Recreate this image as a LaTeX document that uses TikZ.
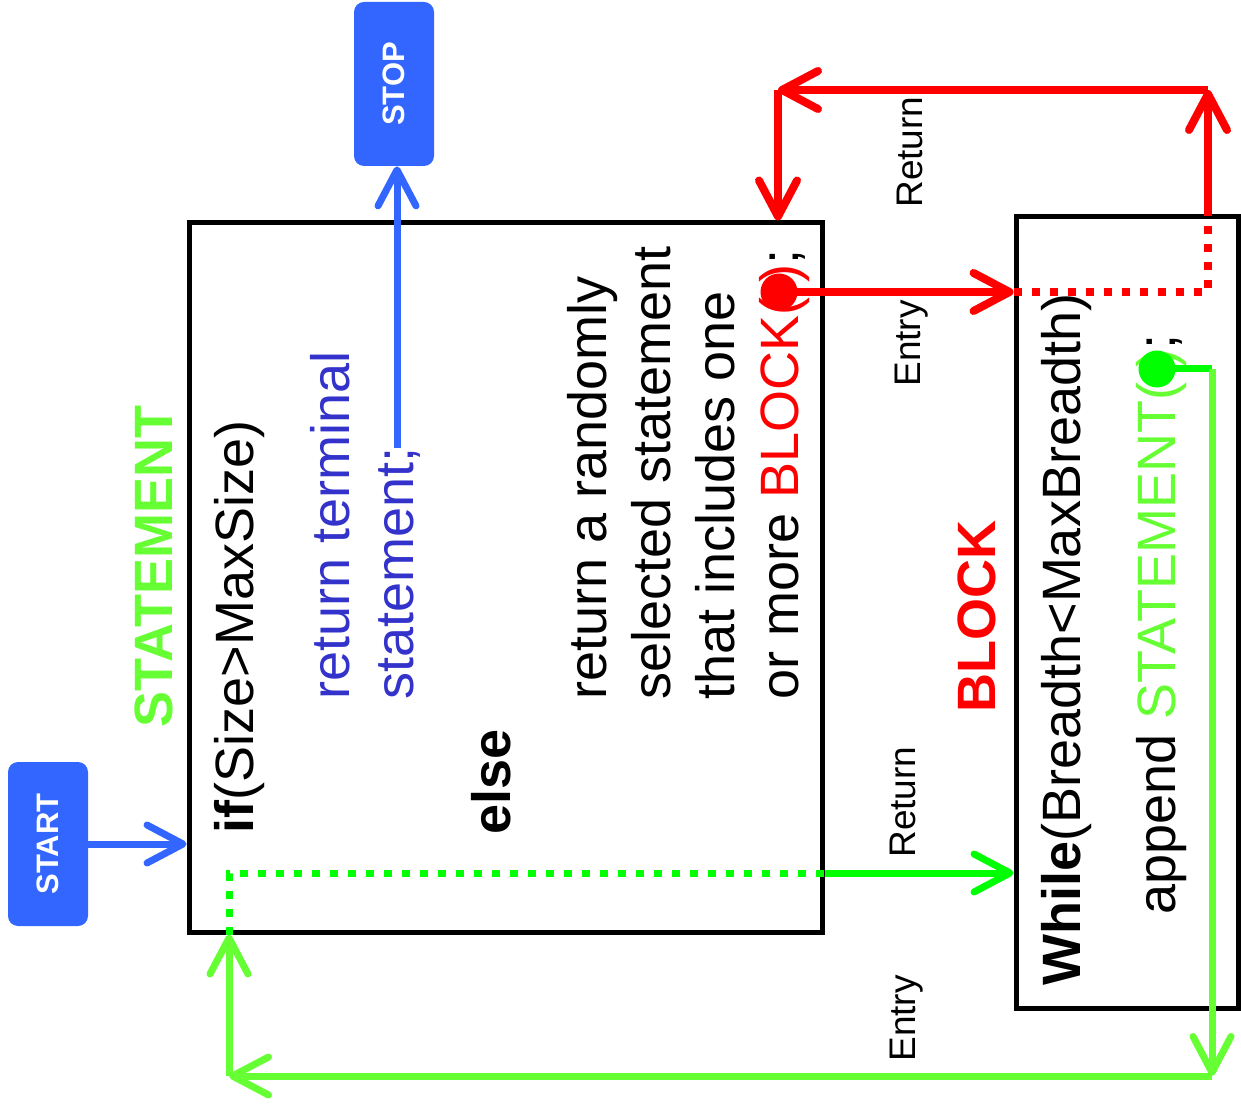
\documentclass[tikz,border=0pt]{standalone}
\usepackage{fontspec}
\setmainfont{Liberation Sans}
\usepackage{xcolor}
\usetikzlibrary{arrows.meta}
\definecolor{flowblue}{HTML}{3366FF}
\definecolor{codeblue}{HTML}{3333CC}
\definecolor{stmtgreen}{HTML}{66FF33}
\definecolor{hotgreen}{HTML}{00FF00}
\definecolor{blockred}{HTML}{FF0000}

\tikzset{
  barb/.style={-{Straight Barb[length=18pt,width=19pt,round]}},
  dots/.style={dash pattern=on 4pt off 5pt},
  txt/.style={rotate=90,anchor=base west,inner sep=0pt,align=left,font=\fontsize{27}{32}\selectfont},
  tag/.style={rotate=90,anchor=base west,inner sep=0pt,font=\fontsize{18.5}{22}\selectfont},
  term/.style={rotate=90,fill=flowblue,rounded corners=5pt,minimum width=82pt,minimum height=40pt,
    text=white,font=\fontsize{15.5}{18}\selectfont\bfseries},
  codebox/.style={draw,line width=2.5pt,inner sep=0pt},
  dot/.style={circle,inner sep=0pt,minimum size=18.5pt}
}

\begin{document}
\begin{tikzpicture}[x=0.5pt,y=-0.5pt]
  \useasboundingbox (0,0) rectangle (1241,1111);

  \node[term] (start) at (48,844) {START};
  \node[term] (stop) at (394,84) {STOP};

  \node[codebox,minimum width=316.5pt,minimum height=354.5pt] (stmt) at (505.5,577.5) {};
  \node[codebox,minimum width=111pt,minimum height=395.5pt] (blk) at (1127,612.5) {};

  % multi-line nodes sit on the baseline of their last line
  \node[txt,text=stmtgreen,font=\fontsize{27}{32}\selectfont\bfseries] (stmtlbl) at (172,728) {STATEMENT};
  \node[txt] (iftxt) at (253,834) {\textbf{if}(Size>MaxSize)};
  \node[txt,text=codeblue] (termtxt) at (413,700) {return terminal\\statement;};
  \node[txt] (elsetxt) at (510,835) {\textbf{else}};
  \node[txt] (randtxt) at (798,700) {return a randomly\\selected statement\\that includes one\\or more \textcolor{blockred}{BLOCK( )};};
  \node[txt,text=blockred,font=\fontsize{27}{32}\selectfont\bfseries] (blklbl) at (995,713) {BLOCK};
  \node[txt] (whiletxt) at (1080,986) {\textbf{While}(Breadth<MaxBreadth)};
  \node[txt] (apptxt) at (1175,915) {append \textcolor{stmtgreen}{STATEMENT( )};};

  \node[tag] (ret1) at (922,208) {Return};
  \node[tag] (ent1) at (920,387) {Entry};
  \node[tag] (ret2) at (915,858) {Return};
  \node[tag] (ent2) at (915,1062) {Entry};

  \node[dot,fill=blockred] (bdot) at (779,292) {};
  \node[dot,fill=hotgreen] (sdot) at (1157,369) {};

  \coordinate (tend) at (397,448);
  \coordinate (rtop) at (1208,90);
  \coordinate (ltop) at (778,90);
  \coordinate (rbot) at (1212,1076);
  \coordinate (lbot) at (229,1076);
  \coordinate (gturn) at (229,873);

  \draw[flowblue,line width=3.5pt,barb] (start.south) -- (start.south -| stmt.west);
  \draw[flowblue,line width=3.5pt,barb] (tend) -- (tend |- stop.west);

  \draw[blockred,line width=4pt,barb] (bdot.center) -- (bdot -| blk.west);
  \draw[blockred,line width=4pt,dots] (bdot -| blk.west) -- (bdot -| rtop) -- (rtop |- blk.north);
  \draw[blockred,line width=4pt,barb] (rtop |- blk.north) -- (rtop);
  \draw[blockred,line width=4pt,barb] (rtop) -- (ltop);
  \draw[blockred,line width=4pt,barb] (ltop) -- (ltop |- stmt.north);

  \draw[hotgreen,line width=3.5pt] (sdot.center) -- (sdot -| rbot);
  \draw[stmtgreen,line width=3.5pt,barb] (sdot -| rbot) -- (rbot);
  \draw[stmtgreen,line width=3.5pt,barb] (rbot) -- (lbot);
  \draw[stmtgreen,line width=3.5pt,barb] (lbot) -- (lbot |- stmt.south);
  \draw[hotgreen,line width=3.5pt,dots] (lbot |- stmt.south) -- (gturn) -- (gturn -| stmt.east);
  \draw[hotgreen,line width=3.5pt,barb] (gturn -| stmt.east) -- (gturn -| blk.west);
\end{tikzpicture}
\end{document}
